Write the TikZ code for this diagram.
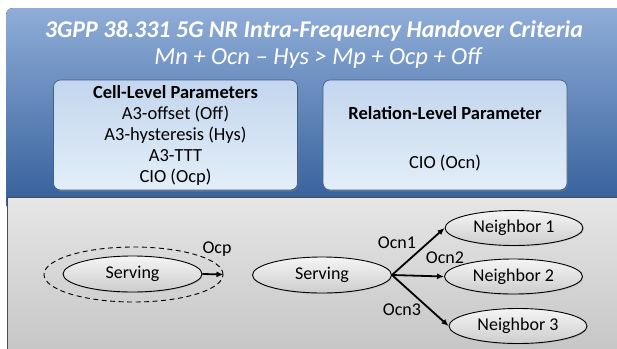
\documentclass[tikz,border=0pt]{standalone}
\usepackage{fontspec}
\setmainfont{Carlito}
\usepackage{tikz}
\usetikzlibrary{shapes.geometric,arrows.meta,shadows}

\definecolor{paneltop}{HTML}{8FADD7}
\definecolor{panelbot}{HTML}{335E9A}
\definecolor{boxtop}{HTML}{C3D6EE}
\definecolor{boxbot}{HTML}{E3EEF8}
\definecolor{boxline}{HTML}{3F5F8C}
\definecolor{graytop}{HTML}{E6E6E6}
\definecolor{graybot}{HTML}{C4C4C4}
\definecolor{celltop}{HTML}{F5F5F5}
\definecolor{cellbot}{HTML}{CDCDCD}

\tikzset{
	parambox/.style={draw=boxline, line width=0.7pt, rounded corners=7pt, top color=boxtop, bottom color=boxbot,
		minimum width=244pt, minimum height=110pt, inner sep=0pt, align=center,
		drop shadow={opacity=0.45, shadow xshift=1pt, shadow yshift=-1.5pt},
		font=\fontsize{18.5}{21}\selectfont},
	cell/.style={ellipse, draw=black, line width=0.9pt, top color=celltop, bottom color=cellbot, inner sep=0pt,
		minimum width=139pt, minimum height=36pt,
		drop shadow={opacity=0.25, shadow xshift=0.8pt, shadow yshift=-1pt},
		font=\fontsize{18}{20}\selectfont},
	ringcell/.style={ellipse, draw=black, line width=0.9pt, dash pattern=on 5pt off 3.5pt, inner sep=0pt},
	cio/.style={font=\fontsize{18}{20}\selectfont, inner sep=1pt},
	handover/.style={-{Latex[length=7pt,width=6pt]}, line width=1.8pt},
}

\begin{document}
\begin{tikzpicture}[x=1pt,y=-1pt]
	\useasboundingbox (0,0) rectangle (617,348);

	%panels
	\fill[rounded corners=7pt, top color=paneltop, bottom color=panelbot] (6,8) rectangle (630,210);
	\fill[top color=graytop, bottom color=graybot] (7,197) rectangle (630,360);
	\draw[gray!60!black, line width=0.8pt] (7,360)--(7,197)--(630,197);

	%title
	\node[white, font=\fontsize{24}{28}\selectfont\bfseries\itshape] (title) at (314,31) {3GPP 38.331 5G NR Intra-Frequency Handover Criteria};
	\node[white, font=\fontsize{24.5}{28}\selectfont\itshape] (criteria) at (318,58) {Mn + Ocn – Hys > Mp + Ocp + Off};

	%parameter boxes
	\node[parambox] (cellbox) at (175.5,135) {\textbf{Cell-Level Parameters}\\A3-offset (Off)\\A3-hysteresis (Hys)\\A3-TTT\\CIO (Ocp)};
	\node[parambox] (relbox) at (445,135) {};
	\node[cio, font=\fontsize{18.5}{21}\selectfont\bfseries] (relhead) at (445,113) {Relation-Level Parameter};
	\node[cio, font=\fontsize{18.5}{21}\selectfont] (cioocn) at (445,163) {CIO (Ocn)};

	%cell-level offset
	\node[ringcell, minimum width=179pt, minimum height=55pt] (ring) at (133.5,274.5) {};
	\node[cell] (srvA) at (132.5,274) {Serving};
	\draw[handover] (srvA.east) -- (ring.east);
	\node[cio] (ocp) at (217,249) {Ocp};

	%relation-level offsets
	\node[cell] (srvB) at (322,275) {Serving};
	\node[cell, minimum width=138pt, minimum height=35pt] (nbA) at (514,228) {Neighbor 1};
	\node[cell, minimum width=138pt, minimum height=35pt] (nbB) at (513.5,276.5) {Neighbor 2};
	\node[cell, minimum width=138pt, minimum height=35pt] (nbC) at (518,326) {Neighbor 3};
	\draw[handover] (srvB.east) -- (nbA.west);
	\draw[handover] (srvB.east) -- (nbB.west);
	\draw[handover] (srvB.east) -- (nbC.west);
	\node[cio] (ocnA) at (397,243) {Ocn1};
	\node[cio] (ocnB) at (445,258) {Ocn2};
	\node[cio] (ocnC) at (402,310) {Ocn3};
\end{tikzpicture}
\end{document}
